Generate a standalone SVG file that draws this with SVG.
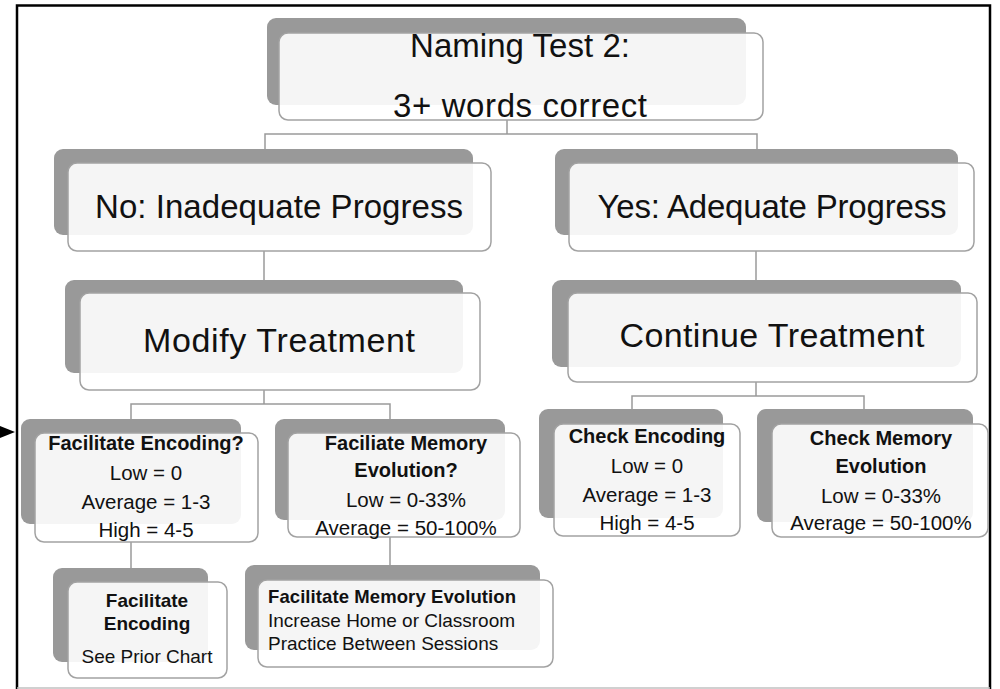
<svg xmlns="http://www.w3.org/2000/svg" width="1000" height="689" viewBox="0 0 1000 689">
<style>
.sh{fill:#999999;}
.fr{fill:#ffffff;fill-opacity:0.9;stroke:#a2a2a2;stroke-width:1.5;}
.t{font-family:"Liberation Sans",Arial,sans-serif;fill:#111111;text-anchor:middle;}
.b{font-weight:bold;}
.l{text-anchor:start;}
.c{fill:none;stroke:#9a9a9a;stroke-width:1.5;}
</style>
<rect x="0" y="0" width="1000" height="689" fill="#ffffff"/>
<path d="M17,689 V5.5 H990 V689" fill="none" stroke="#000000" stroke-width="2.5"/>
<line x1="17" y1="688" x2="990" y2="688" stroke="#c0c0c0" stroke-width="1.5"/>
<polygon points="0,426 15,432 0,438" fill="#000000"/>

<g id="connectors">
<path class="c" d="M507,120 V134 M265,149 V134 H757 V149"/>
<path class="c" d="M264,251 V280"/>
<path class="c" d="M756,251 V280"/>
<path class="c" d="M264,390 V404 M131,419 V404 H390 V419"/>
<path class="c" d="M756,382 V396 M632,409 V396 H864 V409"/>
<path class="c" d="M131,542 V568"/>
<path class="c" d="M390,537 V565"/>
</g>

<g id="naming-test">
<rect class="sh" x="267" y="18" width="479" height="87" rx="9"/>
<rect class="fr" x="279" y="33" width="484" height="87" rx="9"/>
<text class="t" x="520" y="57" font-size="33" textLength="220">Naming Test 2:</text>
<text class="t" x="520" y="117" font-size="33" textLength="254">3+ words correct</text>
</g>

<g id="no-inadequate">
<rect class="sh" x="54" y="149" width="419" height="86" rx="9"/>
<rect class="fr" x="68" y="163" width="423" height="88" rx="9"/>
<text class="t" x="279" y="218" font-size="33" textLength="368">No: Inadequate Progress</text>
</g>

<g id="yes-adequate">
<rect class="sh" x="555" y="149" width="403" height="86" rx="9"/>
<rect class="fr" x="569" y="163" width="405" height="88" rx="9"/>
<text class="t" x="772" y="218" font-size="33" textLength="349">Yes: Adequate Progress</text>
</g>

<g id="modify-treatment">
<rect class="sh" x="65" y="280" width="398" height="93" rx="9"/>
<rect class="fr" x="80" y="293" width="400" height="97" rx="9"/>
<text class="t" x="279" y="352" font-size="34" textLength="272">Modify Treatment</text>
</g>

<g id="continue-treatment">
<rect class="sh" x="552" y="280" width="409" height="87" rx="9"/>
<rect class="fr" x="568" y="293" width="409" height="89" rx="9"/>
<text class="t" x="772" y="347" font-size="34" textLength="305">Continue Treatment</text>
</g>

<g id="facilitate-encoding-q">
<rect class="sh" x="21" y="419" width="220" height="105" rx="9"/>
<rect class="fr" x="35" y="433" width="223" height="109" rx="9"/>
<text class="t b" x="146" y="450" font-size="20">Facilitate Encoding?</text>
<text class="t" x="146" y="480" font-size="20.5">Low = 0</text>
<text class="t" x="146" y="509" font-size="20.5">Average = 1-3</text>
<text class="t" x="146" y="537" font-size="20.5">High = 4-5</text>
</g>

<g id="faciliate-memory-q">
<rect class="sh" x="275" y="419" width="230" height="101" rx="9"/>
<rect class="fr" x="288" y="433" width="232" height="104" rx="9"/>
<text class="t b" x="406" y="450" font-size="20">Faciliate Memory</text>
<text class="t b" x="406" y="477" font-size="20">Evolution?</text>
<text class="t" x="406" y="507" font-size="20.5">Low = 0-33%</text>
<text class="t" x="406" y="535" font-size="20.5">Average = 50-100%</text>
</g>

<g id="check-encoding">
<rect class="sh" x="539" y="409" width="184" height="109" rx="9"/>
<rect class="fr" x="554" y="424" width="186" height="112" rx="9"/>
<text class="t b" x="647" y="443" font-size="20">Check Encoding</text>
<text class="t" x="647" y="473" font-size="20.5">Low = 0</text>
<text class="t" x="647" y="502" font-size="20.5">Average = 1-3</text>
<text class="t" x="647" y="530" font-size="20.5">High = 4-5</text>
</g>

<g id="check-memory">
<rect class="sh" x="757" y="409" width="216" height="113" rx="9"/>
<rect class="fr" x="772" y="424" width="216" height="113" rx="9"/>
<text class="t b" x="881" y="445" font-size="20">Check Memory</text>
<text class="t b" x="881" y="473" font-size="20">Evolution</text>
<text class="t" x="881" y="503" font-size="20.5">Low = 0-33%</text>
<text class="t" x="881" y="530" font-size="20.5">Average = 50-100%</text>
</g>

<g id="facilitate-encoding">
<rect class="sh" x="53" y="568" width="155" height="94" rx="9"/>
<rect class="fr" x="68" y="582" width="159" height="96" rx="9"/>
<text class="t b" x="147" y="607" font-size="19">Facilitate</text>
<text class="t b" x="147" y="630" font-size="19">Encoding</text>
<text class="t" x="147" y="663" font-size="19">See Prior Chart</text>
</g>

<g id="facilitate-memory-evolution">
<rect class="sh" x="245" y="565" width="295" height="85" rx="9"/>
<rect class="fr" x="258" y="580" width="295" height="87" rx="9"/>
<text class="t b l" x="268" y="603" font-size="18.5" textLength="248">Facilitate Memory Evolution</text>
<text class="t l" x="268" y="627" font-size="19">Increase Home or Classroom</text>
<text class="t l" x="268" y="650" font-size="19">Practice Between Sessions</text>
</g>
</svg>
